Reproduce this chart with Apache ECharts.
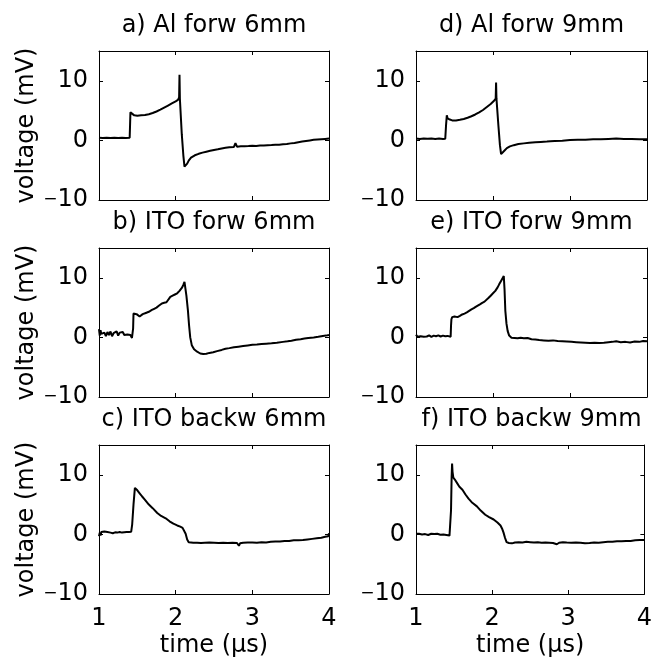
<!DOCTYPE html>
<html>
<head>
<meta charset="utf-8">
<script src="https://cdn.jsdelivr.net/npm/echarts@6/dist/echarts.min.js"></script>
<style>
html,body{margin:0;padding:0;background:#fff;}
#chart{width:655px;height:662px;}
</style>
</head>
<body>
<div id="chart"></div>
<script>
// Panel titles (a..f)
const panelTitles = ["a) Al forw 6mm", "d) Al forw 9mm", "b) ITO forw 6mm", "e) ITO forw 9mm", "c) ITO backw 6mm", "f) ITO backw 9mm"];
const xTicks = [1, 2, 3, 4];
const yTicks = [-10, 0, 10];
const xLabel = "time (\u00b5s)";
const yLabel = "voltage (mV)";

// [time (µs), voltage (mV)]
const alForw6 = [[1.00,0.45],[1.05,0.40],[1.10,0.45],[1.15,0.42],[1.20,0.45],[1.25,0.40],[1.30,0.45],[1.35,0.42],[1.40,0.45],
[1.405,2.5],[1.41,4.7],[1.43,4.4],[1.46,4.2],[1.50,4.15],[1.55,4.2],[1.60,4.25],[1.65,4.4],[1.70,4.6],[1.75,4.85],[1.80,5.15],[1.85,5.5],[1.90,5.85],[1.95,6.2],[2.00,6.55],[2.03,6.8],[2.045,7.2],[2.05,11.0],[2.055,7.0],[2.08,1.0],[2.10,-2.5],[2.115,-4.4],[2.125,-4.7],[2.135,-4.5],[2.15,-3.9],[2.17,-3.4],[2.20,-2.9],[2.25,-2.5],[2.30,-2.25],[2.35,-2.05],[2.40,-1.9],[2.45,-1.75],[2.50,-1.6],[2.55,-1.5],[2.60,-1.35],[2.65,-1.25],[2.70,-1.15],[2.76,-1.1],[2.78,-0.45],[2.80,-1.05],[2.85,-1.0],[2.90,-0.98],[2.95,-0.95],[3.00,-0.9],[3.05,-0.92],[3.10,-0.85],[3.15,-0.85],[3.20,-0.8],[3.25,-0.78],[3.30,-0.75],[3.35,-0.72],[3.40,-0.65],[3.45,-0.6],[3.50,-0.5],[3.55,-0.42],[3.60,-0.3],[3.65,-0.2],[3.70,-0.1],[3.75,0.0],[3.80,0.1],[3.85,0.15],[3.90,0.2],[3.95,0.25],[4.00,0.3]];

const alForw9 = [[1.00,0.3],[1.05,0.25],[1.10,0.32],[1.15,0.28],[1.20,0.3],[1.25,0.22],[1.30,0.3],[1.35,0.25],[1.38,0.28],[1.39,2.5],[1.40,4.2],[1.41,3.7],[1.42,4.0],[1.44,3.5],[1.47,3.35],[1.52,3.35],[1.57,3.45],[1.62,3.6],[1.67,3.8],[1.72,4.05],[1.77,4.35],[1.82,4.7],[1.87,5.1],[1.92,5.6],[1.97,6.1],[2.01,6.6],[2.035,7.0],[2.04,9.7],[2.045,7.0],[2.07,2.5],[2.09,-0.8],[2.105,-2.3],[2.115,-2.5],[2.13,-2.1],[2.15,-1.7],[2.18,-1.3],[2.22,-1.0],[2.27,-0.8],[2.33,-0.6],[2.40,-0.5],[2.47,-0.4],[2.55,-0.3],[2.62,-0.25],[2.70,-0.2],[2.745,-0.15],[2.755,0.15],[2.765,-0.15],[2.80,-0.1],[2.90,-0.05],[3.00,0.05],[3.10,0.1],[3.20,0.12],[3.30,0.2],[3.40,0.18],[3.50,0.25],[3.60,0.3],[3.70,0.22],[3.80,0.25],[3.90,0.2],[4.00,0.2]];

const itoForw6 = [[1.00,1.4],[1.01,0.3],[1.02,1.2],[1.03,0.6],[1.05,0.3],[1.07,0.8],[1.09,0.2],[1.11,0.9],[1.13,0.4],[1.15,1.0],[1.17,0.2],[1.19,0.7],[1.21,0.5],[1.23,1.0],[1.25,0.3],[1.27,0.8],[1.29,0.6],[1.31,0.9],[1.33,0.4],[1.35,0.7],[1.37,0.5],[1.39,0.8],[1.41,0.4],[1.43,-0.1],[1.445,1.5],[1.45,4.0],[1.47,3.8],[1.49,3.9],[1.51,3.7],[1.53,3.5],[1.55,3.3],[1.57,3.9],[1.59,4.0],[1.61,4.1],[1.63,4.3],[1.65,4.3],[1.67,4.5],[1.69,4.6],[1.72,4.8],[1.75,5.0],[1.78,5.3],[1.80,5.5],[1.82,5.7],[1.85,5.8],[1.88,5.9],[1.90,6.2],[1.93,6.8],[1.96,7.0],[1.99,7.2],[2.02,7.4],[2.05,7.8],[2.08,8.3],[2.10,8.8],[2.115,9.3],[2.125,9.0],[2.14,7.0],[2.16,4.5],[2.175,2.0],[2.19,0.0],[2.21,-1.3],[2.24,-2.0],[2.28,-2.4],[2.32,-2.7],[2.36,-2.8],[2.40,-2.75],[2.44,-2.6],[2.49,-2.5],[2.54,-2.3],[2.60,-2.1],[2.65,-1.9],[2.70,-1.8],[2.76,-1.65],[2.82,-1.55],[2.88,-1.45],[2.94,-1.35],[3.00,-1.25],[3.06,-1.2],[3.12,-1.1],[3.18,-1.05],[3.25,-1.0],[3.32,-0.9],[3.40,-0.75],[3.46,-0.65],[3.51,-0.55],[3.57,-0.4],[3.63,-0.3],[3.68,-0.2],[3.73,-0.1],[3.80,0.0],[3.86,0.1],[3.92,0.25],[3.96,0.3],[4.00,0.4]];

const itoForw9 = [[1.00,0.45],[1.02,0.1],[1.04,0.35],[1.06,0.2],[1.08,0.4],[1.10,0.1],[1.12,0.3],[1.14,0.15],[1.17,0.35],[1.20,0.1],[1.23,0.3],[1.26,0.2],[1.29,0.35],[1.32,0.15],[1.35,0.3],[1.38,0.2],[1.41,0.25],[1.43,0.0],[1.45,0.1],[1.455,2.0],[1.46,3.05],[1.47,3.4],[1.48,3.7],[1.50,3.5],[1.52,3.2],[1.54,3.4],[1.57,3.6],[1.60,3.85],[1.63,4.0],[1.66,4.2],[1.69,4.45],[1.72,4.7],[1.75,4.9],[1.78,5.15],[1.80,5.3],[1.83,5.55],[1.86,5.8],[1.89,6.0],[1.91,6.2],[1.94,6.6],[1.97,7.0],[2.00,7.4],[2.03,7.8],[2.06,8.4],[2.08,8.9],[2.11,9.6],[2.14,10.3],[2.15,8.0],[2.16,4.5],[2.175,2.3],[2.19,1.1],[2.21,0.3],[2.24,-0.05],[2.28,-0.1],[2.32,-0.15],[2.36,-0.05],[2.40,-0.15],[2.45,-0.1],[2.50,-0.3],[2.55,-0.35],[2.60,-0.45],[2.66,-0.5],[2.72,-0.55],[2.78,-0.5],[2.84,-0.6],[2.90,-0.65],[2.96,-0.7],[3.02,-0.75],[3.08,-0.8],[3.14,-0.85],[3.20,-0.9],[3.26,-0.95],[3.32,-0.9],[3.38,-0.95],[3.44,-0.9],[3.50,-0.8],[3.55,-0.75],[3.60,-0.65],[3.66,-0.8],[3.72,-0.75],[3.78,-0.85],[3.84,-0.7],[3.90,-0.75],[3.95,-0.6],[4.00,-0.65]];

const itoBackw6 = [[1.00,-0.3],[1.01,0.3],[1.02,-0.2],[1.03,0.4],[1.05,0.1],[1.07,0.5],[1.09,0.2],[1.11,0.4],[1.13,0.1],[1.15,0.3],[1.18,0.2],[1.21,0.35],[1.24,0.3],[1.27,0.4],[1.30,0.3],[1.33,0.35],[1.36,0.4],[1.39,0.4],[1.42,0.45],[1.433,1.7],[1.45,5.0],[1.468,7.8],[1.48,7.7],[1.50,7.4],[1.53,6.9],[1.56,6.4],[1.60,5.8],[1.65,5.0],[1.70,4.4],[1.76,3.6],[1.81,3.1],[1.87,2.7],[1.92,2.2],[1.97,1.8],[2.02,1.5],[2.06,1.3],[2.09,1.1],[2.11,0.8],[2.13,0.1],[2.15,-0.85],[2.17,-1.3],[2.19,-1.45],[2.23,-1.4],[2.28,-1.4],[2.33,-1.45],[2.38,-1.4],[2.44,-1.35],[2.50,-1.4],[2.56,-1.45],[2.62,-1.4],[2.68,-1.45],[2.74,-1.4],[2.80,-1.45],[2.825,-1.9],[2.84,-1.5],[2.88,-1.4],[2.94,-1.35],[3.00,-1.35],[3.06,-1.4],[3.12,-1.3],[3.18,-1.35],[3.24,-1.25],[3.30,-1.2],[3.36,-1.2],[3.42,-1.1],[3.48,-1.1],[3.54,-1.0],[3.60,-1.0],[3.66,-0.95],[3.72,-0.85],[3.78,-0.75],[3.84,-0.65],[3.90,-0.55],[3.95,-0.4],[3.99,-0.3],[4.00,0.2]];

const itoBackw9 = [[1.00,0.1],[1.04,0.1],[1.08,0.0],[1.12,0.05],[1.16,-0.1],[1.20,0.1],[1.24,0.05],[1.28,0.1],[1.32,-0.05],[1.36,0.0],[1.40,-0.1],[1.44,-0.2],[1.45,-0.3],[1.46,4.0],[1.468,9.6],[1.474,11.9],[1.48,10.5],[1.49,9.55],[1.51,9.2],[1.54,8.6],[1.57,8.0],[1.61,7.5],[1.65,6.7],[1.69,6.0],[1.74,5.3],[1.80,4.7],[1.85,4.0],[1.91,3.3],[1.96,2.9],[2.02,2.5],[2.07,2.0],[2.11,1.5],[2.13,1.0],[2.15,0.3],[2.17,-0.6],[2.19,-1.3],[2.22,-1.45],[2.26,-1.5],[2.30,-1.35],[2.35,-1.3],[2.40,-1.35],[2.45,-1.25],[2.50,-1.3],[2.55,-1.35],[2.60,-1.3],[2.65,-1.4],[2.70,-1.35],[2.75,-1.4],[2.80,-1.45],[2.85,-1.65],[2.88,-1.4],[2.93,-1.3],[2.98,-1.35],[3.04,-1.4],[3.10,-1.35],[3.16,-1.4],[3.22,-1.5],[3.28,-1.45],[3.34,-1.35],[3.40,-1.4],[3.46,-1.3],[3.52,-1.25],[3.58,-1.25],[3.64,-1.15],[3.70,-1.15],[3.76,-1.1],[3.82,-1.1],[3.88,-1.0],[3.94,-0.95],[4.00,-0.95]];

const panelData = [alForw6, alForw9, itoForw6, itoForw9, itoBackw6, itoBackw9];

const FONT = "DejaVu Sans";
const FS = 24;
const gridLefts = [99, 416];
const gridWidths = [230, 231];
const gridTops = [51, 248, 445];
const gridH = 149;

const grids = [], xAxes = [], yAxes = [], series = [], graphics = [];
const fmtY = v => (yTicks.indexOf(v) < 0 ? '' : (v < 0 ? '{m|\u2212}' + Math.abs(v) : String(v)));
const fmtX = v => (xTicks.indexOf(v) < 0 ? '' : String(v));

for (let i = 0; i < 6; i++) {
  const col = i % 2, row = Math.floor(i / 2);
  const bottomRow = row === 2, leftCol = col === 0;
  grids.push({left: gridLefts[col], top: gridTops[row], width: gridWidths[col], height: gridH, containLabel: false});
  const axLine = {show: true, onZero: false, lineStyle: {color: '#000', width: 1}};
  const tick = {show: true, inside: true, length: 4, lineStyle: {color: '#000', width: 1}};
  xAxes.push({
    gridIndex: i, type: 'value', min: 1, max: 4, interval: 1, position: 'bottom',
    axisLine: axLine, axisTick: tick, splitLine: {show: false},
    axisLabel: {show: bottomRow, formatter: fmtX, margin: 13, color: '#000', fontSize: FS, fontFamily: FONT},
    name: bottomRow ? xLabel : '', nameLocation: 'middle', nameGap: 52,
    nameTextStyle: {color: '#000', fontSize: FS, fontFamily: FONT, verticalAlign: 'middle'}
  });
  xAxes.push({
    gridIndex: i, type: 'value', min: 1, max: 4, interval: 1, position: 'top',
    axisLine: axLine, axisTick: tick, splitLine: {show: false}, axisLabel: {show: false}
  });
  yAxes.push({
    gridIndex: i, type: 'value', min: -10, max: 15, interval: 10, position: 'left',
    axisLine: axLine, axisTick: tick, splitLine: {show: false},
    axisLabel: {show: true, formatter: fmtY, margin: 11, color: '#000', fontSize: FS, fontFamily: FONT,
      rich: {m: {fontSize: 17, fontFamily: FONT, color: '#000'}}},
    name: leftCol ? yLabel : '', nameLocation: 'middle', nameGap: 72, nameRotate: 90,
    nameTextStyle: {color: '#000', fontSize: FS, fontFamily: FONT, verticalAlign: 'middle', align: 'center'}
  });
  yAxes.push({
    gridIndex: i, type: 'value', min: -10, max: 15, interval: 10, position: 'right',
    axisLine: axLine, axisTick: tick, splitLine: {show: false}, axisLabel: {show: false}
  });
  series.push({
    type: 'line', xAxisIndex: 2 * i, yAxisIndex: 2 * i, data: panelData[i],
    showSymbol: false, symbol: 'none', clip: true,
    lineStyle: {color: '#000', width: 2}, animation: false
  });
  graphics.push({
    type: 'text', x: gridLefts[col] + gridWidths[col] / 2, y: gridTops[row] - 25,
    style: {text: panelTitles[i], fill: '#000', font: FS + 'px "' + FONT + '"', textAlign: 'center', textVerticalAlign: 'middle'}
  });
}

const chart = echarts.init(document.getElementById('chart'), null, {renderer: 'canvas'});
chart.setOption({
  backgroundColor: '#fff',
  animation: false,
  grid: grids, xAxis: xAxes, yAxis: yAxes, series: series, graphic: graphics
});
</script>
</body>
</html>
